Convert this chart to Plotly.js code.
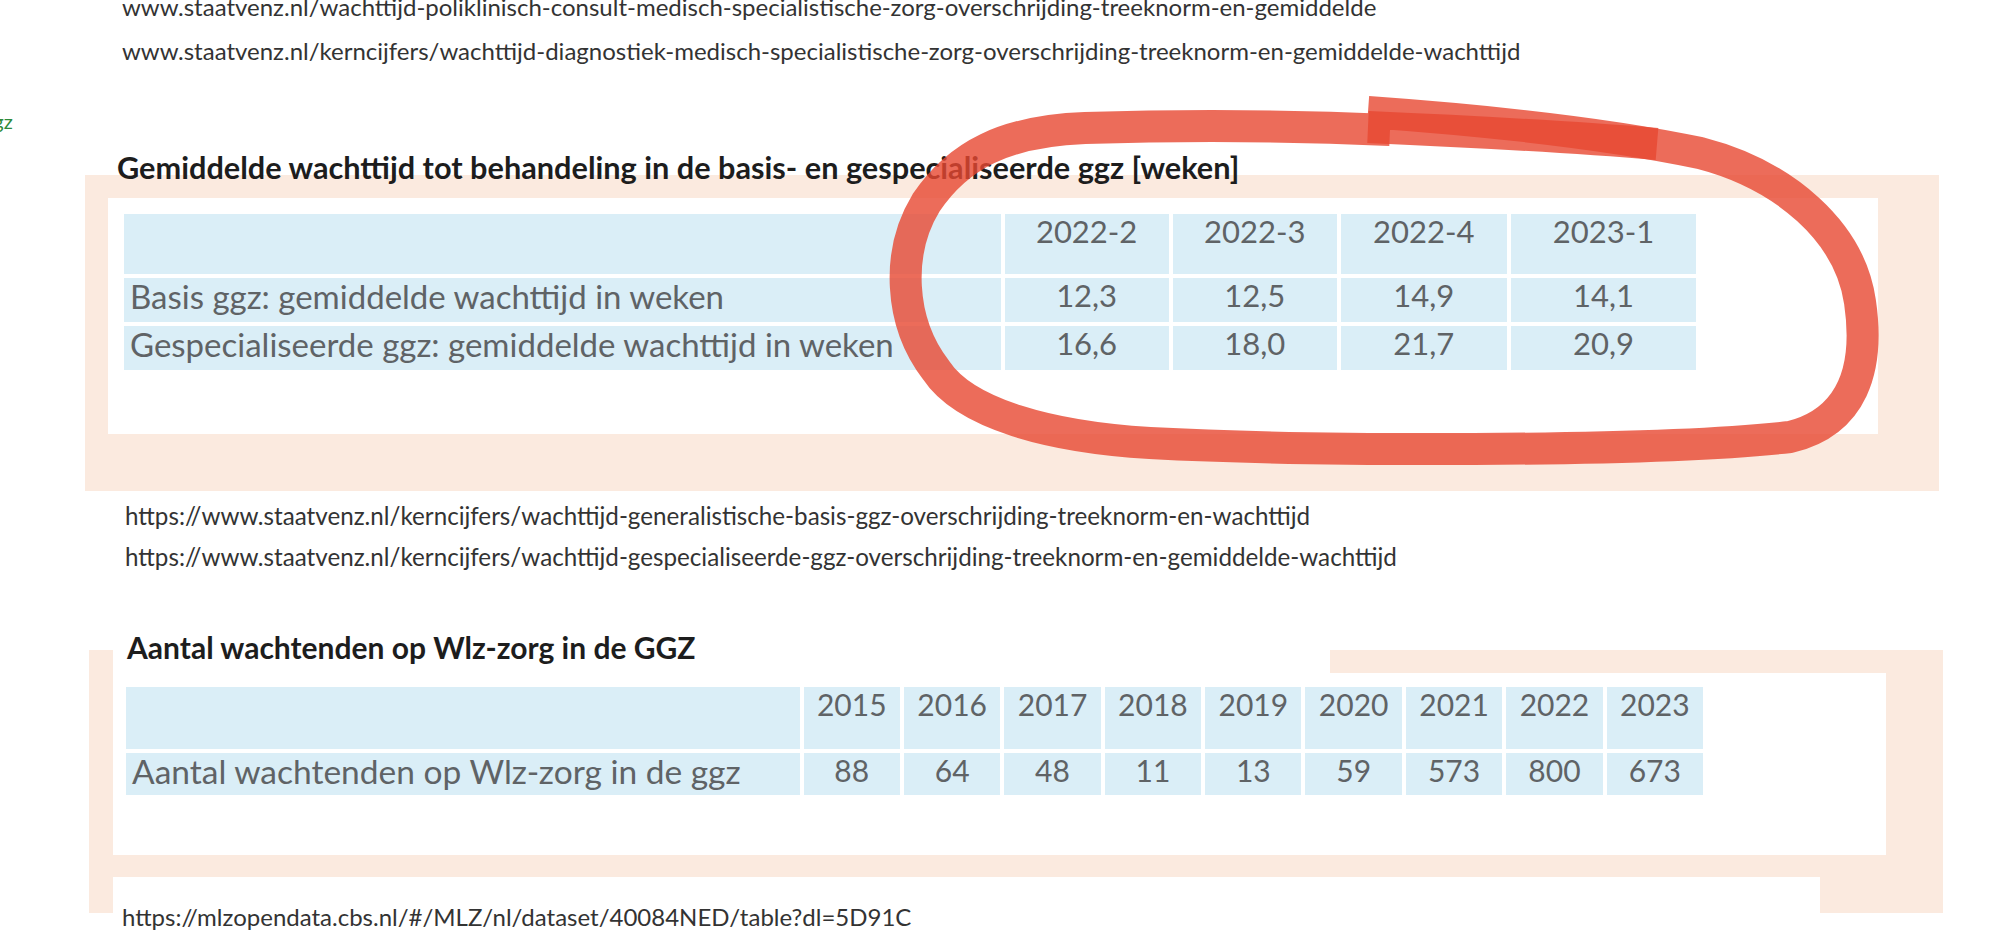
<!DOCTYPE html>
<html>
<head>
<meta charset="utf-8">
<script src="https://cdn.plot.ly/plotly-3.0.1.min.js"></script>
<style>
html,body{margin:0;padding:0;background:#fff;overflow:hidden}
#chart{width:2000px;height:943px}
</style>
</head>
<body>
<div id="chart"></div>
<script>
// ---------- data ----------
const quarters = ['2022-2', '2022-3', '2022-4', '2023-1'];
const waitRowLabels = [
  'Basis ggz: gemiddelde wachttijd in weken',
  'Gespecialiseerde ggz: gemiddelde wachttijd in weken'
];
const basisWeeks = [12.3, 12.5, 14.9, 14.1];
const specialisedWeeks = [16.6, 18.0, 21.7, 20.9];

const years = ['2015', '2016', '2017', '2018', '2019', '2020', '2021', '2022', '2023'];
const wlzRowLabel = 'Aantal wachtenden op Wlz-zorg in de ggz';
const wlzWaiting = [88, 64, 48, 11, 13, 59, 573, 800, 673];

const title1 = 'Gemiddelde wachttijd tot behandeling in de basis- en gespecialiseerde ggz [weken]';
const title2 = 'Aantal wachtenden op Wlz-zorg in de GGZ';
const topUrls = [
  'www.staatvenz.nl/wachttijd-poliklinisch-consult-medisch-specialistische-zorg-overschrijding-treeknorm-en-gemiddelde',
  'www.staatvenz.nl/kerncijfers/wachttijd-diagnostiek-medisch-specialistische-zorg-overschrijding-treeknorm-en-gemiddelde-wachttijd'
];
const midUrls = [
  'https://www.staatvenz.nl/kerncijfers/wachttijd-generalistische-basis-ggz-overschrijding-treeknorm-en-wachttijd',
  'https://www.staatvenz.nl/kerncijfers/wachttijd-gespecialiseerde-ggz-overschrijding-treeknorm-en-gemiddelde-wachttijd'
];
const bottomUrl = 'https://mlzopendata.cbs.nl/#/MLZ/nl/dataset/40084NED/table?dl=5D91C';

// ---------- style ----------
const W = 2000, H = 943;
const px = x => x / W;
const py = y => 1 - y / H;
const FONT = 'Lato, "Open Sans", sans-serif';
const BLUE = '#DAEEF7';
const PEACH = '#FBEADF';
const CELLTXT = '#5f6366';
const fmt = v => v.toFixed(1).replace('.', ',');

// ---------- tables ----------
const table1 = {
  type: 'table',
  domain: {x: [px(122), px(1698)], y: [py(430), py(212)]},
  columnwidth: [880, 168, 168, 170, 189],
  header: {
    values: [''].concat(quarters),
    align: ['left'].concat(quarters.map(() => 'center')),
    height: 64,
    fill: {color: BLUE},
    line: {color: '#ffffff', width: 4},
    font: {family: FONT, size: 31, color: CELLTXT}
  },
  cells: {
    values: [waitRowLabels].concat(quarters.map((q, i) => [fmt(basisWeeks[i]), fmt(specialisedWeeks[i])])),
    align: ['left'].concat(quarters.map(() => 'center')),
    height: 48,
    fill: {color: BLUE},
    line: {color: '#ffffff', width: 4},
    font: {family: FONT, size: [33].concat(quarters.map(() => 31)), color: CELLTXT}
  }
};

const table2 = {
  type: 'table',
  domain: {x: [px(124), px(1705)], y: [py(840), py(685)]},
  columnwidth: [675].concat(years.map(() => 100)),
  header: {
    values: [''].concat(years),
    align: ['left'].concat(years.map(() => 'center')),
    height: 66,
    fill: {color: BLUE},
    line: {color: '#ffffff', width: 4},
    font: {family: FONT, size: 30, color: CELLTXT}
  },
  cells: {
    values: [[wlzRowLabel]].concat(wlzWaiting.map(v => [String(v)])),
    align: ['left'].concat(years.map(() => 'center')),
    height: 46,
    fill: {color: BLUE},
    line: {color: '#ffffff', width: 4},
    font: {family: FONT, size: [33.5].concat(years.map(() => 30)), color: CELLTXT}
  }
};

// ---------- decoration ----------
function rect(x0, y0, x1, y1, color, layer) {
  return {type: 'rect', xref: 'paper', yref: 'paper',
    x0: px(x0), x1: px(x1), y0: py(y1), y1: py(y0),
    fillcolor: color, line: {width: 0}, layer: layer || 'below'};
}
function pathFrom(cmds) {
  return cmds.map(c => c[0] + ' ' + c.slice(1).reduce((s, v, i) =>
    s + (i % 2 === 0 ? (i ? ' ' : '') + px(v).toFixed(5) : ',' + py(v).toFixed(5)), '')).join(' ');
}
const RED = 'rgb(232,72,50)';
const loopA = pathFrom([
  ['M', 1368, 112],
  ['C', 1480, 120, 1600, 132, 1700, 153],
  ['C', 1785, 175, 1850, 232, 1860, 302],
  ['C', 1870, 370, 1852, 422, 1790, 437],
  ['C', 1650, 453, 1300, 451, 1150, 443],
  ['C', 1050, 437, 965, 414, 936, 370],
  ['C', 899, 322, 896, 252, 926, 203],
  ['C', 958, 155, 1005, 131, 1085, 128],
  ['C', 1185, 125, 1300, 126, 1390, 130]
]);
const loopB = pathFrom([
  ['M', 1368, 127],
  ['C', 1460, 131, 1560, 136, 1657, 144]
]);

const shapes = [
  rect(85, 175, 1939, 491, PEACH),
  rect(108, 198, 1878, 434, '#ffffff'),
  rect(89, 650, 1943, 913, PEACH),
  rect(113, 673, 1886, 855, '#ffffff'),
  rect(113, 630, 1330, 673, '#ffffff'),
  rect(113, 877, 1820, 943, '#ffffff'),
  {type: 'rect', xref: 'paper', yref: 'paper', layer: 'above',
   x0: px(114), x1: px(1300), y0: py(186), y1: py(148),
   fillcolor: 'rgba(0,0,0,0)', line: {width: 0},
   label: {text: '<b>' + title1 + '</b>', textposition: 'middle left', padding: 0,
           font: {family: FONT, size: 30.7, color: '#1d1d1d'}}},
  {type: 'path', xref: 'paper', yref: 'paper', layer: 'above', path: loopA,
   line: {color: RED, width: 32}, opacity: 0.8},
  {type: 'path', xref: 'paper', yref: 'paper', layer: 'above', path: loopB,
   line: {color: RED, width: 32}, opacity: 0.8}
];

function note(text, x, y, size, color, extra) {
  return Object.assign({xref: 'paper', yref: 'paper', x: px(x), y: py(y),
    xanchor: 'left', yanchor: 'middle', showarrow: false, text: text,
    font: {family: FONT, size: size, color: color}}, extra || {});
}
const annotations = [
  note(topUrls[0], 120, 7, 24, '#333333'),
  note(topUrls[1], 120, 50, 24, '#333333'),
  note('ggz', 15, 121, 20, '#2f8a3a', {xanchor: 'right'}),
  note(midUrls[0], 123, 515, 24.2, '#333333'),
  note(midUrls[1], 123, 556, 24.2, '#333333'),
  note('<b>' + title2 + '</b>', 124, 647, 30, '#1d1d1d'),
  note(bottomUrl, 120, 916, 24, '#333333')
];

const layout = {
  width: W, height: H,
  margin: {l: 0, r: 0, t: 0, b: 0},
  paper_bgcolor: '#ffffff',
  plot_bgcolor: '#ffffff',
  showlegend: false,
  shapes: shapes,
  annotations: annotations
};

Plotly.newPlot('chart', [table1, table2], layout, {displayModeBar: false, staticPlot: true});
</script>
</body>
</html>
